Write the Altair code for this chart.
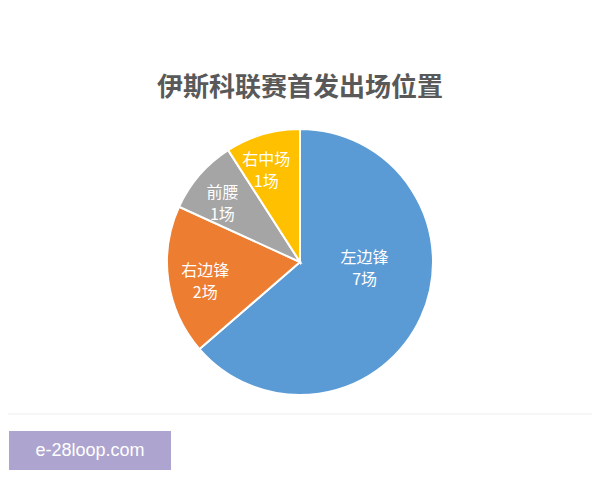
import altair as alt
import pandas as pd

title_text = "伊斯科联赛首发出场位置"
positions = ["左边锋", "右边锋", "前腰", "右中场"]
games = [7, 2, 1, 1]
order = [1, 2, 3, 4]
colors = ["#5B9BD5", "#ED7D31", "#A5A5A5", "#FFC000"]
watermark = "e-28loop.com"

df = pd.DataFrame({
    "pos": positions,
    "games": games,
    "ord": order,
})
df["label"] = [f"{p}\n{g}场" for p, g in zip(positions, games)]

CX, CY = 292, 254
R = 133
TWO_PI = 6.283185307

pie = alt.Chart(df).mark_arc(radius=R, stroke="white", strokeWidth=2).encode(
    theta=alt.Theta("games:Q", stack=True),
    order=alt.Order("ord:Q"),
    color=alt.Color("pos:N", scale=alt.Scale(domain=positions, range=colors), legend=None),
    x=alt.value(CX),
    y=alt.value(CY),
)

label_style = dict(font="Noto Sans CJK SC", fontSize=16, color="white",
                   lineBreak="\n", lineHeight=22, baseline="middle", align="center", dy=-11)

lab_base = alt.Chart(df).transform_joinaggregate(
    total="sum(games)"
).transform_window(
    cum="sum(games)", sort=[alt.SortField("ord")]
).transform_calculate(
    mid="(datum.cum - datum.games / 2) / datum.total"
).encode(
    theta=alt.Theta("mid:Q", stack=None, scale=alt.Scale(domain=[0, 1], range=[0, TWO_PI])),
    text="label:N",
    x=alt.value(CX),
    y=alt.value(CY),
)

big_label = lab_base.transform_filter(alt.datum.ord == 1).mark_text(
    radius=65, thetaOffset=-0.32, **label_style)
small_labels = lab_base.transform_filter(alt.datum.ord > 1).mark_text(
    radius=97, thetaOffset=-0.07, **label_style)

labels = alt.layer(big_label, small_labels)

title = alt.Chart(pd.DataFrame({"t": [title_text]})).mark_text(
    font="Noto Sans CJK SC", fontSize=26, fontWeight="bold", color="#595959",
    baseline="middle", align="center"
).encode(text="t:N", x=alt.value(CX), y=alt.value(80))

sep = alt.Chart(pd.DataFrame({"a": [0]})).mark_rule(color="#eeeeee", strokeWidth=1).encode(
    x=alt.value(-8), x2=alt.value(590), y=alt.value(406)
)

wm_box = alt.Chart(pd.DataFrame({"a": [0]})).mark_rect(color="#ADA5CF").encode(
    x=alt.value(1), x2=alt.value(163), y=alt.value(423), y2=alt.value(462)
)
wm_text = alt.Chart(pd.DataFrame({"t": [watermark]})).mark_text(
    font="Liberation Sans", fontSize=18, color="white", baseline="middle", align="center"
).encode(text="t:N", x=alt.value(82), y=alt.value(443))

chart = alt.layer(sep, pie, labels, title, wm_box, wm_text).resolve_scale(
    theta="independent"
).properties(
    width=584, height=464, padding=0,
    autosize=alt.AutoSizeParams(type="none"),
).configure_view(stroke=None)

chart.save("out.html", embed_options={"renderer": "svg", "actions": False})
